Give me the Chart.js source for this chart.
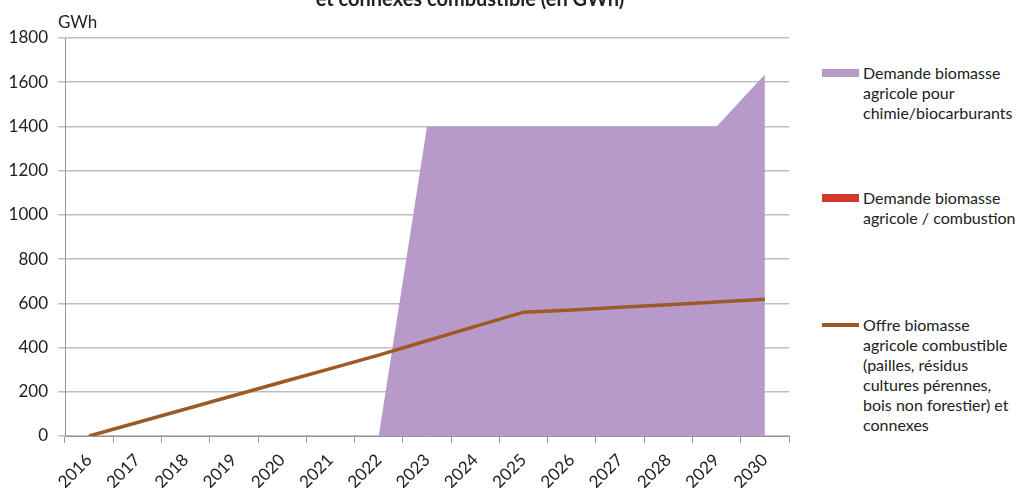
<!DOCTYPE html>
<html>
<head>
<meta charset="utf-8">
<script src="https://cdn.jsdelivr.net/npm/chart.js@4/dist/chart.umd.min.js"></script>
<style>
    html, body { margin: 0; padding: 0; background: #fff; }
    body { width: 1020px; height: 488px; position: relative; overflow: hidden; font-family: Lato, "Open Sans", sans-serif; color: #222; }
    #chart-box { position: absolute; left: 0; top: 0; width: 800px; height: 488px; }
    #title { position: absolute; left: 0; width: 940px; top: -14px; text-align: center; font-weight: bold; font-size: 20px; }
    #unit { position: absolute; left: 58px; top: 11px; font-size: 17px; }
    #legend { position: absolute; left: 822px; top: 0; font-size: 16px; line-height: 20px; }
    .item { position: absolute; left: 0; white-space: nowrap; }
    .swatch { position: absolute; left: 0; top: 6px; width: 37px; height: 8px; }
    .swatch.line { top: 8px; height: 4px; }
    .text { position: absolute; left: 41px; top: 0; }
</style>
</head>
<body>
<div id="chart-box"><canvas id="biomasse-chart" width="800" height="488"></canvas></div>
<div id="title">et connexes combustible (en GWh)</div>
<div id="unit">GWh</div>
<div id="legend"></div>

<script>
const YEARS = ['2016', '2017', '2018', '2019', '2020', '2021', '2022', '2023',
    '2024', '2025', '2026', '2027', '2028', '2029', '2030'];

// Demande biomasse agricole pour chimie/biocarburants
const DEMANDE_CHIMIE = [0, 0, 0, 0, 0, 0, 0, 1400, 1400, 1400, 1400, 1400, 1400, 1400, 1635];
// Demande biomasse agricole / combustion
const DEMANDE_COMBUSTION = [0, 0, 0, 0, 0, 0, 0, 0, 0, 0, 0, 0, 0, 0, 0];
// Offre biomasse agricole combustible
const OFFRE = [0, 61, 122, 183, 244, 305, 366, 431, 496, 560, 570, 582, 594, 606, 618];

const LEGEND_LINES = [
    ['Demande biomasse', 'agricole pour', 'chimie/biocarburants'],
    ['Demande biomasse', 'agricole / combustion'],
    ['Offre biomasse', 'agricole combustible', '(pailles, résidus', 'cultures pérennes,', 'bois non forestier) et', 'connexes']
];
const LEGEND_TOPS = [63, 188, 315];

const Y_TICKS = [0, 200, 400, 600, 800, 1000, 1200, 1400, 1600, 1800];

const COLORS = {
    chimie: 'rgb(183, 154, 201)',
    combustion: 'rgb(208, 58, 42)',
    offre: 'rgb(158, 90, 36)',
    grid: 'rgb(190, 190, 190)',
    axis: 'rgb(150, 150, 150)',
    text: '#222'
};

const TICK_FONT = { family: 'Lato, "Open Sans", sans-serif', size: 17 };

const ctx = document.getElementById('biomasse-chart').getContext('2d');
const chart = new Chart(ctx, {
    type: 'line',
    data: {
        labels: YEARS,
        datasets: [
            {
                label: LEGEND_LINES[0].join(' '),
                data: DEMANDE_CHIMIE,
                backgroundColor: COLORS.chimie,
                borderWidth: 0,
                pointRadius: 0,
                fill: 'origin',
                tension: 0,
                order: 3
            },
            {
                label: LEGEND_LINES[1].join(' '),
                data: DEMANDE_COMBUSTION,
                backgroundColor: COLORS.combustion,
                borderWidth: 0,
                pointRadius: 0,
                fill: 'origin',
                tension: 0,
                order: 2
            },
            {
                label: LEGEND_LINES[2].join(' '),
                data: OFFRE,
                borderColor: COLORS.offre,
                borderWidth: 3.5,
                pointRadius: 0,
                fill: false,
                tension: 0,
                order: 0
            }
        ]
    },
    options: {
        responsive: false,
        animation: false,
        layout: { padding: { top: 38, right: 11, left: 0, bottom: 0 } },
        plugins: {
            legend: { display: false },
            tooltip: { enabled: false }
        },
        scales: {
            x: {
                offset: true,
                grid: {
                    offset: true,
                    drawOnChartArea: false,
                    drawTicks: true,
                    tickLength: 7,
                    color: COLORS.axis
                },
                border: { color: COLORS.axis },
                ticks: {
                    minRotation: 45,
                    maxRotation: 45,
                    autoSkip: false,
                    color: COLORS.text,
                    font: TICK_FONT,
                    padding: 7
                },
                afterFit: scale => { scale.height = 52; }
            },
            y: {
                min: 0,
                max: 1800,
                afterBuildTicks: scale => { scale.ticks = Y_TICKS.map(v => ({ value: v })); },
                grid: {
                    color: COLORS.grid,
                    lineWidth: 1.5,
                    tickLength: 7
                },
                border: { color: COLORS.axis },
                ticks: {
                    color: COLORS.text,
                    font: TICK_FONT,
                    padding: 10,
                    callback: v => String(v)
                },
                afterFit: scale => { scale.width = 65; }
            }
        }
    }
});

// Legend built from the datasets, wrapped like the original
const legendEl = document.getElementById('legend');
chart.data.datasets.forEach((ds, i) => {
    const item = document.createElement('div');
    item.className = 'item';
    item.style.top = LEGEND_TOPS[i] + 'px';
    const sw = document.createElement('div');
    const isLine = ds.fill === false;
    sw.className = isLine ? 'swatch line' : 'swatch';
    sw.style.background = isLine ? ds.borderColor : ds.backgroundColor;
    const txt = document.createElement('div');
    txt.className = 'text';
    txt.innerHTML = LEGEND_LINES[i].join('<br>');
    item.appendChild(sw);
    item.appendChild(txt);
    legendEl.appendChild(item);
});
</script>
</body>
</html>
